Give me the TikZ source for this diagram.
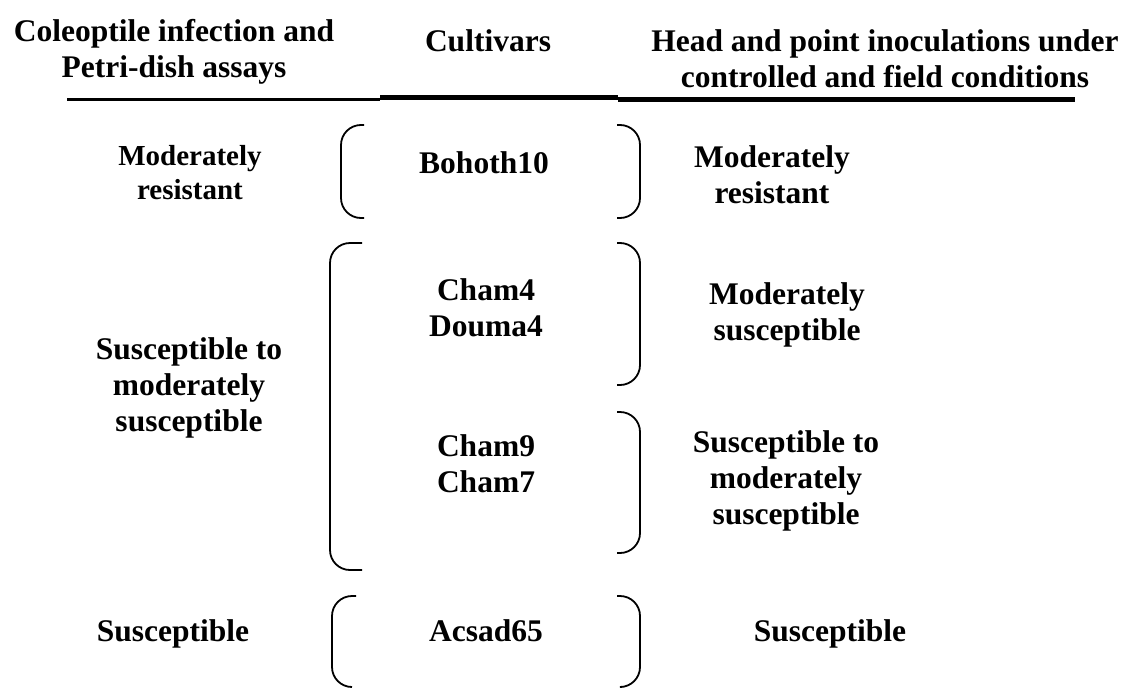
\documentclass[tikz,border=0pt]{standalone}
\usepackage{fontspec}
\setmainfont{Liberation Serif}
\begin{document}
\begin{tikzpicture}[x=1pt,y=-1pt,
  txt/.style={font=\fontsize{31.5}{36}\selectfont\bfseries, align=center, anchor=base, inner sep=0pt},
  txtsmall/.style={font=\fontsize{29}{34}\selectfont\bfseries, align=center, anchor=base, inner sep=0pt},
  rule/.style={line width=#1, line cap=butt},
  brk/.style={line width=1.8pt, rounded corners=20pt}]
\useasboundingbox (0,0) rectangle (1121,688);
% headers (anchor = baseline of last line)
\node[txt] (h1) at (174,77) {Coleoptile infection and\\Petri-dish assays};
\node[txt] (h2) at (488,51) {Cultivars};
\node[txt] (h3) at (885,87) {Head and point inoculations under\\controlled and field conditions};
% header rules
\draw[rule=3.5pt] (67,99.5) -- (380,99.5);
\draw[rule=4.5pt] (380,97.5) -- (618,97.5);
\draw[rule=4.5pt] (618,99.5) -- (1075,99.5);
% left column
\node[txtsmall] (l1) at (190,199) {Moderately\\resistant};
\node[txt] (l2) at (189,431) {Susceptible to\\moderately\\susceptible};
\node[txt] (l3) at (173,641) {Susceptible};
% cultivars
\node[txt] (c1) at (484,173) {Bohoth10};
\node[txt] (c2) at (486,336) {Cham4\\Douma4};
\node[txt] (c3) at (486,492) {Cham9\\Cham7};
\node[txt] (c4) at (486,641) {Acsad65};
% right column
\node[txt] (r1) at (772,203) {Moderately\\resistant};
\node[txt] (r2) at (787,340) {Moderately\\susceptible};
\node[txt] (r3) at (786,524) {Susceptible to\\moderately\\susceptible};
\node[txt] (r4) at (830,641) {Susceptible};
% left brackets
\draw[brk] (364,125) -- (341,125) -- (341,218) -- (364,218);
\draw[brk] (362,243) -- (330,243) -- (330,570) -- (362,570);
\draw[brk] (356,596) -- (332,596) -- (332,687) -- (352,687);
% right brackets
\draw[brk] (617,125) -- (640,125) -- (640,218) -- (617,218);
\draw[brk] (617,243) -- (640,243) -- (640,385) -- (617,385);
\draw[brk] (617,412) -- (640,412) -- (640,553) -- (617,553);
\draw[brk] (617,596) -- (640,596) -- (640,687) -- (622,687);
\end{tikzpicture}
\end{document}
